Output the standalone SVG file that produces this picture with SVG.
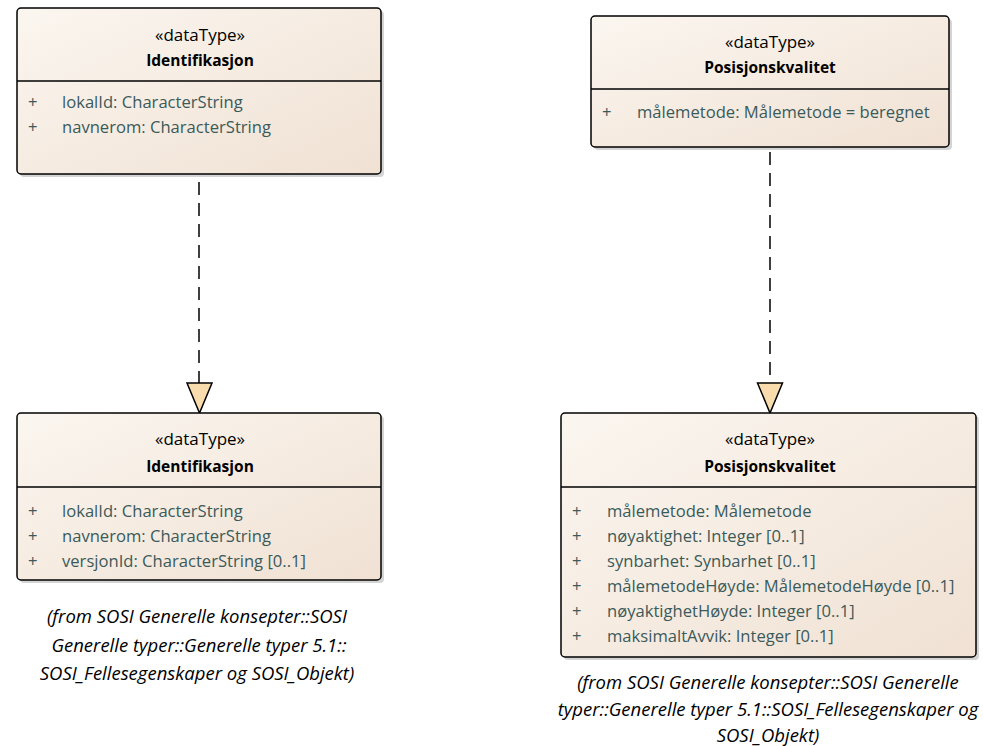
<svg xmlns="http://www.w3.org/2000/svg" width="983" height="746" viewBox="0 0 983 746">
<style>
.box{fill:url(#g);stroke:#000;stroke-width:1.5}
.shadow{fill:#d4d4d4}
.div{stroke:#000;stroke-width:1.5}
.st{font-family:"Open Sans","Liberation Sans",sans-serif;font-size:17px;fill:#000;text-anchor:middle}
.nm{font-family:"Open Sans","Liberation Sans",sans-serif;font-size:15.5px;font-weight:bold;fill:#000;text-anchor:middle}
.at{font-family:"Open Sans","Liberation Sans",sans-serif;font-size:16.6px;fill:#3b5a5a}
.note{font-family:"Open Sans","Liberation Sans",sans-serif;font-size:18.5px;font-style:italic;fill:#000;text-anchor:middle}
.dash{stroke:#000;stroke-width:1.5;stroke-dasharray:13,8;fill:none}
.head{fill:#f8dcae;stroke:#000;stroke-width:1.5}
</style>
<defs>
<linearGradient id="g" x1="0" y1="0" x2="1" y2="1">
<stop offset="0" stop-color="#fbf6f0"/>
<stop offset="1" stop-color="#f0e1d3"/>
</linearGradient>
</defs>
<rect width="983" height="746" fill="#fff"/>
<g id="connectors">
<line class="dash" x1="199" y1="182" x2="199" y2="383"/>
<polygon class="head" points="187,383 212,383 199.5,413"/>
<line class="dash" x1="770" y1="152" x2="770" y2="383"/>
<polygon class="head" points="757.5,383 782.5,383 770,413"/>
</g>
<g id="identifikasjon1">
<rect class="shadow" x="20" y="11" width="364" height="166" rx="4"/>
<rect class="box" x="17" y="8" width="364" height="166" rx="4"/>
<line class="div" x1="17" y1="81" x2="381" y2="81"/>
<text class="st" x="200" y="41">«dataType»</text>
<text class="nm" x="200" y="66">Identifikasjon</text>
<text class="at" x="28" y="108">+</text>
<text class="at" x="62" y="108">lokalId: CharacterString</text>
<text class="at" x="28" y="133">+</text>
<text class="at" x="62" y="133">navnerom: CharacterString</text>
</g>
<g id="posisjonskvalitet1">
<rect class="shadow" x="594" y="19" width="358" height="131" rx="4"/>
<rect class="box" x="591" y="16" width="358" height="131" rx="4"/>
<line class="div" x1="591" y1="89" x2="949" y2="89"/>
<text class="st" x="770" y="48">«dataType»</text>
<text class="nm" x="770" y="73">Posisjonskvalitet</text>
<text class="at" x="602" y="118">+</text>
<text class="at" x="637" y="118">målemetode: Målemetode = beregnet</text>
</g>
<g id="identifikasjon2">
<rect class="shadow" x="20" y="416" width="364" height="167" rx="4"/>
<rect class="box" x="17" y="413" width="364" height="167" rx="4"/>
<line class="div" x1="17" y1="487" x2="381" y2="487"/>
<text class="st" x="200" y="445">«dataType»</text>
<text class="nm" x="200" y="472">Identifikasjon</text>
<text class="at" x="28" y="517">+</text>
<text class="at" x="62" y="517">lokalId: CharacterString</text>
<text class="at" x="28" y="542">+</text>
<text class="at" x="62" y="542">navnerom: CharacterString</text>
<text class="at" x="28" y="567">+</text>
<text class="at" x="62" y="567">versjonId: CharacterString [0..1]</text>
<text class="note" x="197" y="623">(from SOSI Generelle konsepter::SOSI</text>
<text class="note" x="199" y="652">Generelle typer::Generelle typer 5.1::</text>
<text class="note" x="197" y="680">SOSI_Fellesegenskaper og SOSI_Objekt)</text>
</g>
<g id="posisjonskvalitet2">
<rect class="shadow" x="564" y="416" width="415" height="244" rx="4"/>
<rect class="box" x="561" y="413" width="415" height="244" rx="4"/>
<line class="div" x1="561" y1="487" x2="976" y2="487"/>
<text class="st" x="770" y="445">«dataType»</text>
<text class="nm" x="770" y="472">Posisjonskvalitet</text>
<text class="at" x="572" y="517">+</text>
<text class="at" x="607" y="517">målemetode: Målemetode</text>
<text class="at" x="572" y="542">+</text>
<text class="at" x="607" y="542">nøyaktighet: Integer [0..1]</text>
<text class="at" x="572" y="567">+</text>
<text class="at" x="607" y="567">synbarhet: Synbarhet [0..1]</text>
<text class="at" x="572" y="592">+</text>
<text class="at" x="607" y="592">målemetodeHøyde: MålemetodeHøyde [0..1]</text>
<text class="at" x="572" y="617">+</text>
<text class="at" x="607" y="617">nøyaktighetHøyde: Integer [0..1]</text>
<text class="at" x="572" y="642">+</text>
<text class="at" x="607" y="642">maksimaltAvvik: Integer [0..1]</text>
<text class="note" x="768" y="689">(from SOSI Generelle konsepter::SOSI Generelle</text>
<text class="note" x="768" y="716">typer::Generelle typer 5.1::SOSI_Fellesegenskaper og</text>
<text class="note" x="768" y="742">SOSI_Objekt)</text>
</g>
</svg>
